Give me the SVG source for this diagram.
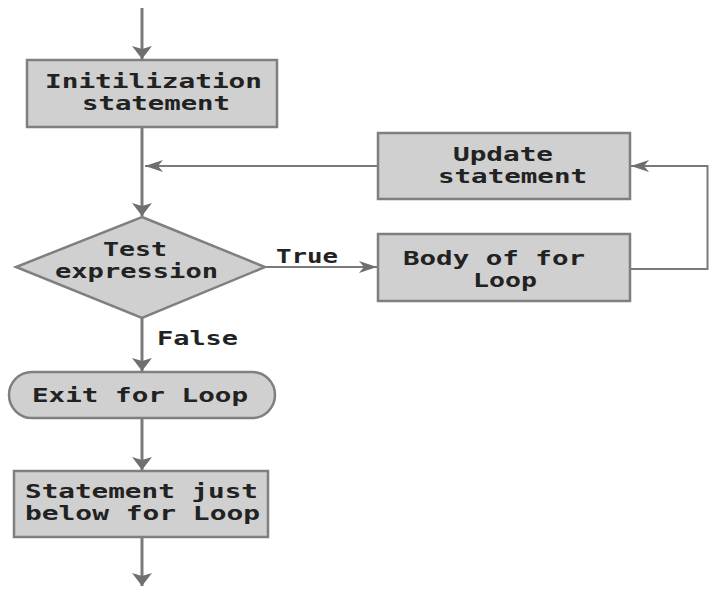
<svg xmlns="http://www.w3.org/2000/svg" width="709" height="592" viewBox="0 0 709 592">
<style>
.box{fill:#d0d0d0;stroke:#7f7f7f;stroke-width:2.5}
.t{font-family:"DejaVu Sans Mono","Liberation Mono",monospace;font-weight:bold;font-size:19.5px;fill:#222}
.v{fill:none;stroke:#7a7a7a;stroke-width:3}
.h{fill:none;stroke:#7a7a7a;stroke-width:2}
</style>
<defs>
<marker id="av" markerUnits="userSpaceOnUse" viewBox="0 0 13 20" refX="13" refY="10" markerWidth="13" markerHeight="20" orient="auto">
<path d="M0,0 L13,10 L0,20 L3,10 z" fill="#6f6f6f"/>
</marker>
<marker id="ah" markerUnits="userSpaceOnUse" viewBox="0 0 18 12" refX="18" refY="6" markerWidth="18" markerHeight="12" orient="auto">
<path d="M0,0 L18,6 L0,12 L5,6 z" fill="#6f6f6f"/>
</marker>
</defs>
<rect width="709" height="592" fill="#fff"/>
<g id="connectors">
<path class="v" d="M142,8 V59" marker-end="url(#av)"/>
<path class="v" d="M142,127 V216" marker-end="url(#av)"/>
<path class="h" d="M378,166 H145" marker-end="url(#ah)"/>
<path class="h" d="M265,267 H377" marker-end="url(#ah)"/>
<path class="h" d="M630,269 H707.5 V166 H631" marker-end="url(#ah)"/>
<path class="v" d="M142,318 V371" marker-end="url(#av)"/>
<path class="v" d="M142,418 V470" marker-end="url(#av)"/>
<path class="v" d="M142,537 V586" marker-end="url(#av)"/>
<text class="t" x="276" y="263" textLength="62" lengthAdjust="spacingAndGlyphs">True</text>
<text class="t" x="157" y="345" textLength="81" lengthAdjust="spacingAndGlyphs">False</text>
</g>
<g id="init">
<rect class="box" x="27" y="60" width="250" height="67"/>
<text class="t" x="45" y="88" textLength="217" lengthAdjust="spacingAndGlyphs">Initilization</text>
<text class="t" x="82" y="110" textLength="148" lengthAdjust="spacingAndGlyphs">statement</text>
</g>
<g id="test">
<polygon class="box" points="142,217 265,267 142,318 16,267"/>
<text class="t" x="103" y="256" textLength="64" lengthAdjust="spacingAndGlyphs">Test</text>
<text class="t" x="55" y="278" textLength="163" lengthAdjust="spacingAndGlyphs">expression</text>
</g>
<g id="update">
<rect class="box" x="378" y="133" width="252" height="66"/>
<text class="t" x="453" y="161" textLength="100" lengthAdjust="spacingAndGlyphs">Update</text>
<text class="t" x="438" y="183" textLength="149" lengthAdjust="spacingAndGlyphs">statement</text>
</g>
<g id="body">
<rect class="box" x="378" y="234" width="252" height="67"/>
<text class="t" x="403" y="265" textLength="182" lengthAdjust="spacingAndGlyphs">Body of for</text>
<text class="t" x="473" y="287" textLength="64" lengthAdjust="spacingAndGlyphs">Loop</text>
</g>
<g id="exit">
<rect class="box" x="9" y="372" width="266" height="46" rx="23" ry="23"/>
<text class="t" x="32" y="402" textLength="216" lengthAdjust="spacingAndGlyphs">Exit for Loop</text>
</g>
<g id="after">
<rect class="box" x="14" y="471" width="254" height="66"/>
<text class="t" x="25" y="498" textLength="233" lengthAdjust="spacingAndGlyphs">Statement just</text>
<text class="t" x="25" y="520" textLength="235" lengthAdjust="spacingAndGlyphs">below for Loop</text>
</g>
</svg>
